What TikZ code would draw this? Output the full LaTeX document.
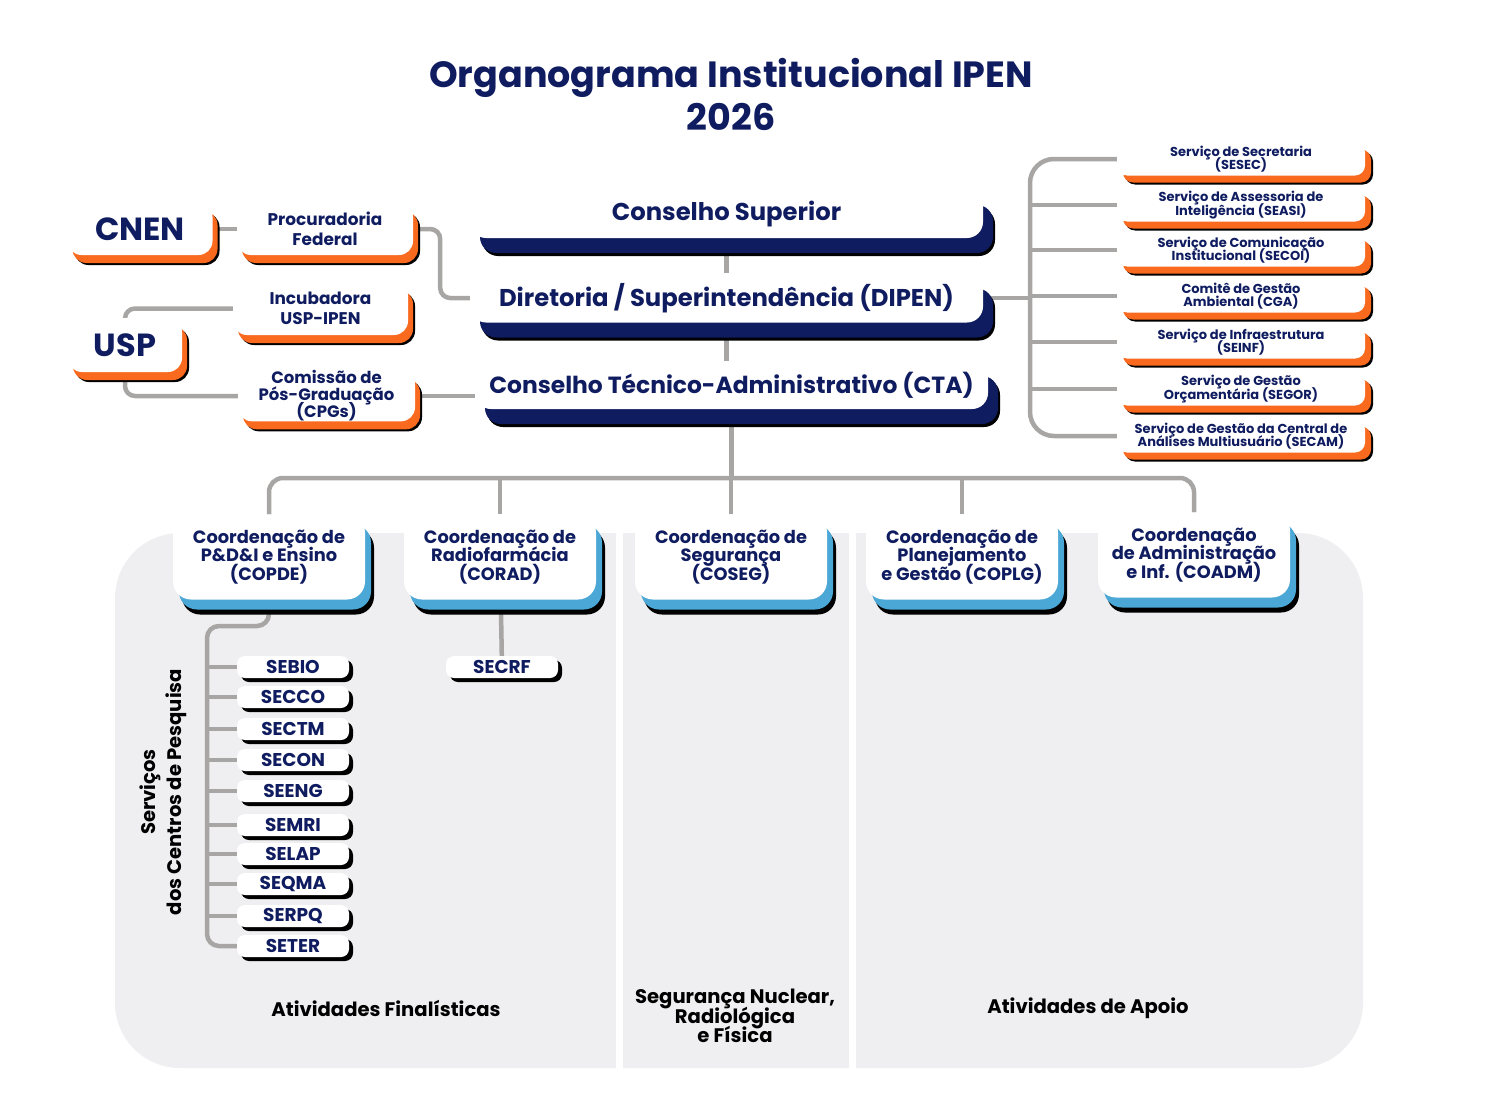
\documentclass[tikz,border=0pt]{standalone}
\usepackage{fontspec}
\setmainfont{Poppins}
\usepackage{tikz}
\usetikzlibrary{positioning, calc, shadows}
\definecolor{IpenNavy}{HTML}{0F1C60}
\definecolor{IpenOrange}{HTML}{F96A1E}
\definecolor{IpenBlue}{HTML}{4BA8D6}
\definecolor{IpenGray}{HTML}{A8A6A4}
\definecolor{IpenPanel}{HTML}{EFEFF1}
\pgfdeclarelayer{panel}
\pgfdeclarelayer{wires}
\pgfsetlayers{panel,wires,main}
\lineskiplimit=-100pt

\begin{document}
\begin{tikzpicture}[x=1pt, y=-1pt]
  \tikzstyle{unit}=[rounded corners=12pt, fill=white, text=IpenNavy, align=center, inner sep=0pt]
  \tikzstyle{council}=[unit, rounded corners=16pt, minimum width=513pt, minimum height=48pt,
  font=\fontsize{24.3}{26}\selectfont\bfseries,
  drop shadow={shadow xshift=12pt, shadow yshift=-18pt, fill=black, opacity=1},
  drop shadow={shadow xshift=10pt, shadow yshift=-15pt, fill=IpenNavy, opacity=1}]
  \tikzstyle{partner}=[unit, rounded corners=14pt, font=\fontsize{16.9}{20}\selectfont\bfseries,
  drop shadow={shadow xshift=7pt, shadow yshift=-10pt, fill=black, opacity=1},
  drop shadow={shadow xshift=5pt, shadow yshift=-8pt, fill=IpenOrange, opacity=1}]
  \tikzstyle{advisory}=[unit, rounded corners=10pt, minimum width=248pt, minimum height=33pt,
  font=\fontsize{13}{13.2}\selectfont\bfseries,
  drop shadow={shadow xshift=8pt, shadow yshift=-9pt, fill=black, opacity=1},
  drop shadow={shadow xshift=6pt, shadow yshift=-7pt, fill=IpenOrange, opacity=1}]
  \tikzstyle{coord}=[unit, rounded corners=18pt, minimum width=192pt, minimum height=85pt,
  font=\fontsize{17.8}{18.3}\selectfont\bfseries,
  drop shadow={shadow xshift=9pt, shadow yshift=-15pt, fill=black, opacity=1},
  drop shadow={shadow xshift=6pt, shadow yshift=-10pt, fill=IpenBlue, opacity=1}]
  \tikzstyle{lab}=[unit, rounded corners=8pt, minimum width=112pt, minimum height=22pt,
  font=\fontsize{18.5}{19}\selectfont\bfseries,
  drop shadow={shadow xshift=4pt, shadow yshift=-4pt, fill=black, opacity=1}]
  \tikzstyle{area}=[align=center, text=black, font=\fontsize{19.6}{19.6}\selectfont\bfseries]
  \tikzstyle{wire}=[draw=IpenGray, line width=4.5pt]

  \useasboundingbox (0,0) rectangle (1500,1108);

  \node (title) at (731,94) [align=center, text=IpenNavy,
  font=\fontsize{36.5}{43}\selectfont\bfseries] {Organograma Institucional IPEN\\2026};

  \node (sup) at (726.5,214) [council] {Conselho Superior};
  \node (dipen) at (726.5,298) [council, minimum height=49pt] {Diretoria / Superintendência (DIPEN)};
  \node (cta) at (731.5,385) [council, font=\fontsize{23.4}{26}\selectfont\bfseries]
  {Conselho Técnico-Administrativo (CTA)};

  \node (cnen) at (140,229) [partner, minimum width=145pt, minimum height=52pt,
  font=\fontsize{32}{32}\selectfont\bfseries] {CNEN};
  \node (proc) at (325,229) [partner, minimum width=176pt, minimum height=52pt] {Procuradoria\\Federal};
  \node (incub) at (320.5,308.5) [partner, minimum width=175pt, minimum height=53pt] {Incubadora\\USP-IPEN};
  \node (usp) at (125,345) [partner, minimum width=114pt, minimum height=54pt,
  font=\fontsize{32}{32}\selectfont\bfseries] {USP};
  \node (cpg) at (326.5,396) [partner, minimum width=177pt, minimum height=50pt,
  font=\fontsize{16.5}{17}\selectfont\bfseries] {Comissão de\\Pós-Graduação\\(CPGs)};

  \node (sesec) at (1241,159) [advisory] {Serviço de Secretaria\\(SESEC)};
  \node (seasi) at (1241,205) [advisory] {Serviço de Assessoria de\\Inteligência (SEASI)};
  \node (secoi) at (1241,250) [advisory] {Serviço de Comunicação\\Institucional (SECOI)};
  \node (cga) at (1241,296) [advisory] {Comitê de Gestão\\Ambiental (CGA)};
  \node (seinf) at (1241,342) [advisory] {Serviço de Infraestrutura\\(SEINF)};
  \node (segor) at (1241,389) [advisory] {Serviço de Gestão\\Orçamentária (SEGOR)};
  \node (secam) at (1241,436) [advisory] {Serviço de Gestão da Central de\\Análises Multiusuário (SECAM)};

  \node (copde) at (269,557) [coord] {Coordenação de\\P\&D\&I e Ensino\\(COPDE)};
  \node (corad) at (500,557) [coord] {Coordenação de\\Radiofarmácia\\(CORAD)};
  \node (coseg) at (731,557) [coord] {Coordenação de\\Segurança\\(COSEG)};
  \node (coplg) at (962,557) [coord] {Coordenação de\\Planejamento\\e Gestão (COPLG)};
  \node (coadm) at (1194,555) [coord] {Coordenação\\de Administração\\e Inf. (COADM)};

  \foreach \name/\y in {SEBIO/667, SECCO/697, SECTM/729, SECON/760, SEENG/791,
    SEMRI/825, SELAP/854, SEQMA/884, SERPQ/916, SETER/946}
    \node (\name) at (293,\y) [lab] {\name};
  \node (SECRF) at (502,667) [lab] {SECRF};

  \node (centros) at (163,792) [area, rotate=90, font=\fontsize{19.6}{26}\selectfont\bfseries]
  {Serviços\\dos Centros de Pesquisa};
  \node (fin) at (386,1008) [area] {Atividades Finalísticas};
  \node (nuclear) at (735,1016) [area] {Segurança Nuclear,\\Radiológica\\e Física};
  \node (apoio) at (1088,1008) [area] {Atividades de Apoio};

  \begin{pgfonlayer}{panel}
    \fill[IpenPanel, rounded corners=65pt] (115,533) rectangle (1363,1068);
    \fill[white] (616,528) rectangle (623,1072);
    \fill[white] (849,528) rectangle (856,1072);
  \end{pgfonlayer}

  \begin{pgfonlayer}{wires}
    \draw[wire] (sup.south) -- (sup.south |- dipen.north);
    \draw[wire] (dipen.south) -- (dipen.south |- cta.north);
    \draw[wire] (cnen) -- (proc);
    \draw[wire, rounded corners=10pt] (proc.east) -- ++(27,0) |- (dipen.west);
    \draw[wire, rounded corners=10pt] (usp.north) |- (incub.west);
    \draw[wire, rounded corners=10pt] (usp.south) |- (cpg.west);
    \draw[wire] (cpg.east) -- (cpg.east -| cta.west);

    \coordinate (spine) at (1030,300);
    \draw[wire, rounded corners=24pt] (sesec.west) -| (spine) |- (secam.west);
    \draw[wire] (dipen.east) -- (dipen.east -| spine);
    \foreach \n in {seasi, secoi, cga, seinf, segor}
      \draw[wire] (\n.west) -- (\n.west -| spine);

    \coordinate (bus) at (731,478);
    \draw[wire] (cta.south) -- (cta.south |- bus);
    \draw[wire, rounded corners=14pt] (copde.north) |- (bus) -| (coadm.north);
    \foreach \n in {corad, coseg, coplg}
      \draw[wire] (\n.north) -- (\n.north |- bus);

    \draw[wire] (corad) -- (SECRF);
    \coordinate (rail) at (207,626);
    \draw[wire, rounded corners=12pt] (copde.south) |- (rail) |- (SETER.west);
    \foreach \n in {SEBIO, SECCO, SECTM, SECON, SEENG, SEMRI, SELAP, SEQMA, SERPQ}
      \draw[wire] (\n.west) -- (\n.west -| rail);
  \end{pgfonlayer}
\end{tikzpicture}
\end{document}
